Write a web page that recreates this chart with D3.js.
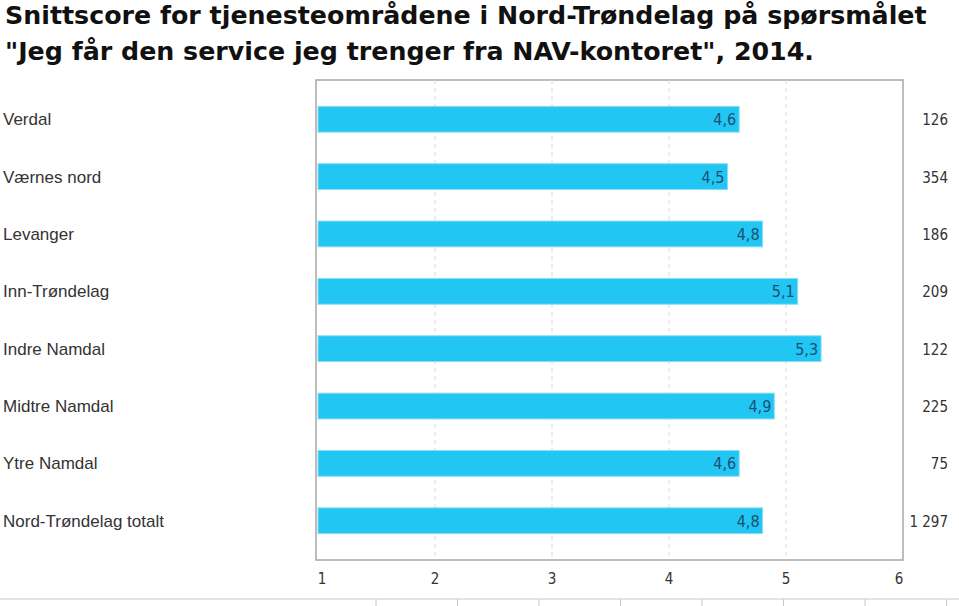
<!DOCTYPE html>
<html>
<head>
<meta charset="utf-8">
<script src="https://cdn.jsdelivr.net/npm/d3@7"></script>
<style>
  body { margin: 0; background: #fff; }
  svg { display: block; }
</style>
</head>
<body>
<div id="chart"></div>
<script>
// data
const titleLines = [
    'Snittscore for tjenesteområdene i Nord-Trøndelag på spørsmålet',
    '"Jeg får den service jeg trenger fra NAV-kontoret", 2014.'
];
const areas = ['Verdal', 'Værnes nord', 'Levanger', 'Inn-Trøndelag', 'Indre Namdal', 'Midtre Namdal', 'Ytre Namdal', 'Nord-Trøndelag totalt'];
const scores = [4.6, 4.5, 4.8, 5.1, 5.3, 4.9, 4.6, 4.8];
const counts = ['126', '354', '186', '209', '122', '225', '75', '1 297'];
const xTicks = [1, 2, 3, 4, 5, 6];

const W = 959, H = 606;
const svg = d3.select('#chart').append('svg')
    .attr('width', W)
    .attr('height', H);

// title
svg.selectAll('text.title')
    .data(titleLines)
    .enter().append('text')
    .attr('class', 'title')
    .attr('x', 5)
    .attr('y', (d, i) => 24 + i * 36)
    .attr('font-family', 'DejaVu Sans')
    .attr('font-weight', 'bold')
    .attr('font-size', 25.3)
    .attr('fill', '#111')
    .text(d => d);

// plot frame
const plot = { left: 318, right: 903, top: 80, bottom: 560 };

const x = d3.scaleLinear().domain([1, 6]).range([plot.left, plot.right]);
const y = d3.scaleBand().domain(areas).range([plot.top + 12, plot.bottom - 12]).paddingInner(0.55).paddingOuter(0.25);

svg.append('rect')
    .attr('x', plot.left - 2)
    .attr('y', plot.top)
    .attr('width', plot.right - plot.left + 2)
    .attr('height', plot.bottom - plot.top)
    .attr('fill', 'none')
    .attr('stroke', '#a8a8a8')
    .attr('stroke-width', 1.5);

// dashed grid lines
svg.selectAll('line.grid')
    .data(xTicks.slice(1, -1))
    .enter().append('line')
    .attr('class', 'grid')
    .attr('x1', d => x(d)).attr('x2', d => x(d))
    .attr('y1', plot.top).attr('y2', plot.bottom)
    .attr('stroke', '#d8d8d8')
    .attr('stroke-dasharray', '4,4');

// x tick labels
svg.selectAll('text.tick')
    .data(xTicks)
    .enter().append('text')
    .attr('class', 'tick')
    .attr('x', d => x(d) + (d === 1 ? 4 : (d === 6 ? -4 : 0)))
    .attr('y', 584)
    .attr('text-anchor', 'middle')
    .attr('font-family', 'DejaVu Sans Condensed')
    .attr('font-size', 15)
    .attr('fill', '#333')
    .text(d => d);

// bars
const rows = areas.map((a, i) => ({ area: a, score: scores[i], n: counts[i] }));

svg.selectAll('rect.bar')
    .data(rows)
    .enter().append('rect')
    .attr('class', 'bar')
    .attr('x', plot.left)
    .attr('y', d => y(d.area))
    .attr('width', d => x(d.score) - plot.left)
    .attr('height', y.bandwidth())
    .attr('fill', '#22c6f3')
    .attr('stroke', '#8fdcf5')
    .attr('stroke-width', 1);

// value labels inside bars
svg.selectAll('text.val')
    .data(rows)
    .enter().append('text')
    .attr('class', 'val')
    .attr('x', d => x(d.score) - 3)
    .attr('y', d => y(d.area) + y.bandwidth() / 2 + 6)
    .attr('text-anchor', 'end')
    .attr('font-family', 'DejaVu Sans Condensed')
    .attr('font-size', 16)
    .attr('fill', '#1b4f72')
    .text(d => d.score.toFixed(1).replace('.', ','));

// category labels
svg.selectAll('text.cat')
    .data(rows)
    .enter().append('text')
    .attr('class', 'cat')
    .attr('x', 3)
    .attr('y', d => y(d.area) + y.bandwidth() / 2 + 6)
    .attr('font-family', 'Liberation Sans')
    .attr('font-size', 17)
    .attr('fill', '#333')
    .text(d => d.area);

// n at the right
svg.selectAll('text.n')
    .data(rows)
    .enter().append('text')
    .attr('class', 'n')
    .attr('x', 948)
    .attr('y', d => y(d.area) + y.bandwidth() / 2 + 6)
    .attr('text-anchor', 'end')
    .attr('font-family', 'DejaVu Sans Condensed')
    .attr('font-size', 15)
    .attr('fill', '#333')
    .text(d => d.n);

// bottom rule with small ticks
svg.append('line')
    .attr('x1', 0).attr('x2', W)
    .attr('y1', 599).attr('y2', 599)
    .attr('stroke', '#c8c8c8');

svg.selectAll('line.rt')
    .data(d3.range(376, W, 81.5))
    .enter().append('line')
    .attr('class', 'rt')
    .attr('x1', d => d).attr('x2', d => d)
    .attr('y1', 599).attr('y2', 606)
    .attr('stroke', '#c8c8c8');
</script>
</body>
</html>
